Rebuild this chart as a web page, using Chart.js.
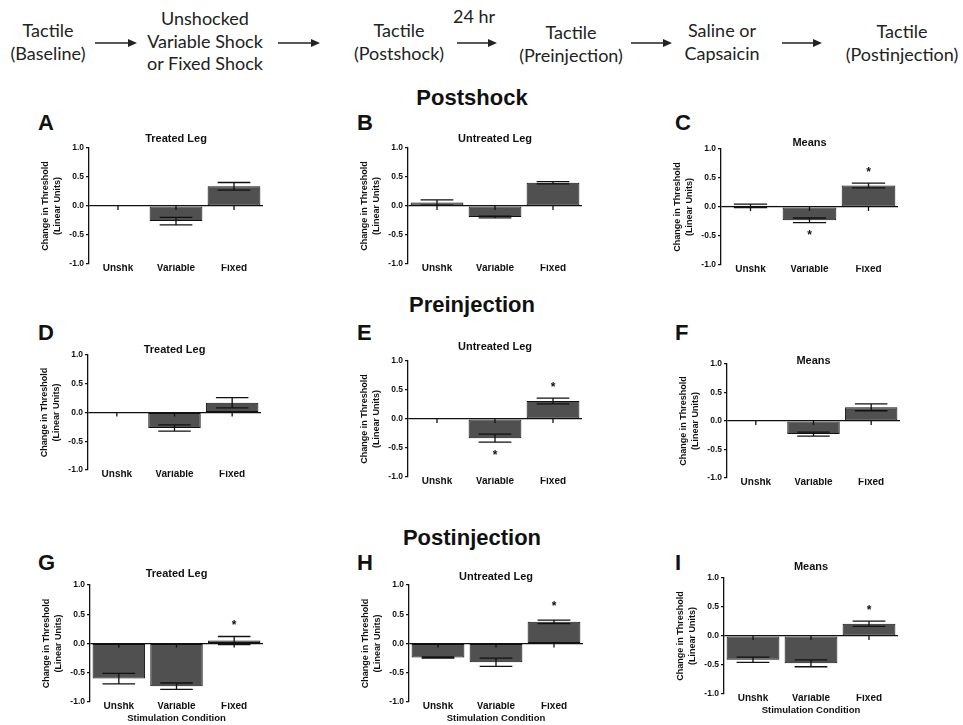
<!DOCTYPE html>
<html>
<head>
<meta charset="utf-8">
<script src="https://cdn.jsdelivr.net/npm/chart.js@4.4.0/dist/chart.umd.min.js"></script>
<style>
  body { margin: 0; background: #fff; }
  #page { position: relative; width: 963px; height: 725px; overflow: hidden; font-family: 'Liberation Sans', Arial, sans-serif; color: #111; }
  .flow { position: absolute; transform: translateX(-50%); text-align: center; font-family: Lato, 'Open Sans', sans-serif; font-size: 18px; line-height: 22.5px; color: #222; white-space: nowrap; }
  .section { position: absolute; transform: translate(-50%, -50%); font-weight: bold; font-size: 22px; white-space: nowrap; }
  .letter { position: absolute; font-weight: bold; font-size: 22px; line-height: 22px; transform: translateY(-50%); }
  canvas { position: absolute; }
  svg { position: absolute; left: 0; top: 0; }
</style>
</head>
<body>
<div id="page"></div>
<script>
const categories = ["Unshk", "Variable", "Fixed"];
const yTicks = [-1.0, -0.5, 0.0, 0.5, 1.0];
const noStars = [null, null, null];

// Postshock
const postshockTreated = [0, -0.26, 0.34];
const postshockTreatedErr = [0, 0.065, 0.065];
const postshockUntreated = [0.06, -0.19, 0.40];
const postshockUntreatedErr = [0.045, 0.015, 0.02];
const postshockMeans = [0.02, -0.23, 0.37];
const postshockMeansErr = [0.03, 0.04, 0.04];
const postshockMeansStars = [null, -0.43, 0.66];

// Preinjection
const preTreated = [0, -0.27, 0.17];
const preTreatedErr = [0, 0.055, 0.09];
const preUntreated = [0, -0.33, 0.31];
const preUntreatedErr = [0, 0.07, 0.05];
const preUntreatedStars = [null, -0.57, 0.61];
const preMeans = [0, -0.23, 0.24];
const preMeansErr = [0, 0.035, 0.06];

// Postinjection
const postinjTreated = [-0.60, -0.73, 0.05];
const postinjTreatedErr = [0.09, 0.055, 0.07];
const postinjTreatedStars = [null, null, 0.36];
const postinjUntreated = [-0.24, -0.32, 0.37];
const postinjUntreatedErr = [0.01, 0.07, 0.03];
const postinjUntreatedStars = [null, null, 0.69];
const postinjMeans = [-0.41, -0.47, 0.21];
const postinjMeansErr = [0.045, 0.06, 0.045];
const postinjMeansStars = [null, null, 0.50];

const page = document.getElementById("page");
Chart.defaults.font.family = "'Liberation Sans', Arial, sans-serif";

// flow chart on top
const flowItems = [
    { lines: ["Tactile", "(Baseline)"], x: 48, y: 19 },
    { lines: ["Unshocked", "Variable Shock", "or Fixed Shock"], x: 205, y: 7 },
    { lines: ["Tactile", "(Postshock)"], x: 399, y: 19 },
    { lines: ["24 hr"], x: 474, y: 5 },
    { lines: ["Tactile", "(Preinjection)"], x: 571, y: 21 },
    { lines: ["Saline or", "Capsaicin"], x: 722, y: 19 },
    { lines: ["Tactile", "(Postinjection)"], x: 902, y: 20 },
];
flowItems.forEach(function (f) {
    const d = document.createElement("div");
    d.className = "flow";
    d.style.left = f.x + "px";
    d.style.top = f.y + "px";
    d.innerHTML = f.lines.join("<br>");
    page.appendChild(d);
});

const arrows = [[95, 137], [278, 320], [457, 497], [631, 672], [782, 822]];
let svg = '<svg width="963" height="80">';
arrows.forEach(function (a) {
    svg += '<line x1="' + a[0] + '" y1="43" x2="' + (a[1] - 6) + '" y2="43" stroke="#222" stroke-width="1.6"/>';
    svg += '<polygon points="' + a[1] + ',43 ' + (a[1] - 9) + ',39 ' + (a[1] - 9) + ',47" fill="#222"/>';
});
svg += "</svg>";
page.insertAdjacentHTML("beforeend", svg);

[["Postshock", 472, 98], ["Preinjection", 472, 305], ["Postinjection", 472, 538]].forEach(function (s) {
    const d = document.createElement("div");
    d.className = "section";
    d.textContent = s[0];
    d.style.left = s[1] + "px";
    d.style.top = s[2] + "px";
    page.appendChild(d);
});

const errorBars = {
    id: "errorBars",
    afterDatasetsDraw(chart) {
        const ctx = chart.ctx;
        const x = chart.scales.x;
        const y = chart.scales.y;
        const ds = chart.data.datasets[0];
        const meta = chart.getDatasetMeta(0);
        const zero = y.getPixelForValue(0);
        ctx.save();
        ctx.strokeStyle = "#111";
        ctx.fillStyle = "#111";
        ctx.lineWidth = 1.3;
        ctx.font = "bold 12px 'Liberation Sans', Arial";
        ctx.textAlign = "center";
        ctx.textBaseline = "alphabetic";
        meta.data.forEach(function (bar, i) {
            const cx = x.getPixelForValue(i);
            ctx.beginPath();
            ctx.moveTo(cx, zero);
            ctx.lineTo(cx, zero + 4);
            ctx.stroke();
            const e = ds.errors[i];
            if (e > 0) {
                const hi = y.getPixelForValue(ds.data[i] + e);
                const lo = y.getPixelForValue(ds.data[i] - e);
                const half = bar.width * 0.31;
                ctx.beginPath();
                ctx.moveTo(cx, hi); ctx.lineTo(cx, lo);
                ctx.moveTo(cx - half, hi); ctx.lineTo(cx + half, hi);
                ctx.moveTo(cx - half, lo); ctx.lineTo(cx + half, lo);
                ctx.stroke();
            }
            const s = ds.stars[i];
            if (s !== null) {
                ctx.fillText("*", cx, y.getPixelForValue(s) + 7);
            }
        });
        ctx.restore();
    },
};

const panels = [
    { letter: "A", title: "Treated Leg", values: postshockTreated, errors: postshockTreatedErr, stars: noStars, ax: 89, t: 148, b: 264, r: 263, titleY: 139, ly: 123 },
    { letter: "B", title: "Untreated Leg", values: postshockUntreated, errors: postshockUntreatedErr, stars: noStars, ax: 408, t: 148, b: 264, r: 582, titleY: 139, ly: 123 },
    { letter: "C", title: "Means", values: postshockMeans, errors: postshockMeansErr, stars: postshockMeansStars, ax: 721, t: 149, b: 265, r: 898, titleY: 143, ly: 123 },
    { letter: "D", title: "Treated Leg", values: preTreated, errors: preTreatedErr, stars: noStars, ax: 88, t: 355, b: 470, r: 261, titleY: 350, ly: 333 },
    { letter: "E", title: "Untreated Leg", values: preUntreated, errors: preUntreatedErr, stars: preUntreatedStars, ax: 408, t: 361, b: 477, r: 582, titleY: 347, ly: 333 },
    { letter: "F", title: "Means", values: preMeans, errors: preMeansErr, stars: noStars, ax: 727, t: 364, b: 478, r: 900, titleY: 361, ly: 333 },
    { letter: "G", title: "Treated Leg", values: postinjTreated, errors: postinjTreatedErr, stars: postinjTreatedStars, ax: 90, t: 585, b: 702, r: 263, titleY: 574, ly: 563, xTitle: true },
    { letter: "H", title: "Untreated Leg", values: postinjUntreated, errors: postinjUntreatedErr, stars: postinjUntreatedStars, ax: 409, t: 585, b: 702, r: 583, titleY: 577, ly: 563, xTitle: true },
    { letter: "I", title: "Means", values: postinjMeans, errors: postinjMeansErr, stars: postinjMeansStars, ax: 724, t: 578, b: 694, r: 898, titleY: 567, ly: 563, xTitle: true },
];

const letterLeft = [38, 357, 675];

panels.forEach(function (p, n) {
    const lt = document.createElement("div");
    lt.className = "letter";
    lt.textContent = p.letter;
    lt.style.left = letterLeft[n % 3] + "px";
    lt.style.top = p.ly + "px";
    page.appendChild(lt);

    const bottomSpace = p.xTitle ? 24 : 20;
    const w = (p.r - p.ax) + 70;
    const h = (p.b - p.t) + 30 + bottomSpace;
    const canvas = document.createElement("canvas");
    canvas.width = w;
    canvas.height = h;
    canvas.style.width = w + "px";
    canvas.style.height = h + "px";
    canvas.style.left = (p.ax - 60) + "px";
    canvas.style.top = (p.t - 30) + "px";
    page.appendChild(canvas);

    const titlePad = p.titleY - (p.t - 30) - 5.5;

    new Chart(canvas, {
        type: "bar",
        data: {
            labels: categories,
            datasets: [
                {
                    data: p.values,
                    errors: p.errors,
                    stars: p.stars,
                    backgroundColor: "#505050",
                    borderColor: "#111",
                    borderWidth: 1,
                    borderSkipped: false,
                    barPercentage: 0.91,
                    categoryPercentage: 1,
                },
            ],
        },
        options: {
            responsive: false,
            animation: false,
            devicePixelRatio: 1,
            layout: { padding: { left: 0, right: 10, top: 0, bottom: 0 } },
            plugins: {
                legend: { display: false },
                tooltip: { enabled: false },
                title: {
                    display: true,
                    text: p.title,
                    fullSize: false,
                    color: "#111",
                    font: { size: 11, weight: "bold", lineHeight: 1 },
                    padding: { top: titlePad, bottom: 30 - 11 - titlePad },
                },
            },
            scales: {
                x: {
                    offset: true,
                    grid: { display: false, drawTicks: false },
                    border: { display: false },
                    ticks: { color: "#111", font: { size: 10, weight: "bold" }, padding: -2 },
                    title: {
                        display: !!p.xTitle,
                        text: "Stimulation Condition",
                        color: "#111",
                        font: { size: 9.5, weight: "bold" },
                        padding: { top: 0, bottom: 2 },
                    },
                    afterFit: function (s) { s.height = bottomSpace; },
                },
                y: {
                    min: -1,
                    max: 1,
                    afterBuildTicks: function (s) { s.ticks = yTicks.map(function (v) { return { value: v }; }); },
                    ticks: {
                        color: "#111",
                        font: { size: 8.5, weight: "bold" },
                        padding: 2,
                        callback: function (v) { return v.toFixed(1); },
                    },
                    grid: {
                        color: function (c) { return c.tick && c.tick.value === 0 ? "#111" : "rgba(0,0,0,0)"; },
                        tickColor: "#111",
                        tickLength: 3,
                        lineWidth: 1.2,
                    },
                    border: { display: true, color: "#111", width: 1.3 },
                    title: {
                        display: true,
                        text: ["Change in Threshold", "(Linear Units)"],
                        color: "#111",
                        font: { size: 9, weight: "bold", lineHeight: 1.33 },
                        padding: { top: 10.5, bottom: 0 },
                    },
                    afterFit: function (s) { s.width = 60; },
                },
            },
        },
        plugins: [errorBars],
    });
});
</script>
</body>
</html>
